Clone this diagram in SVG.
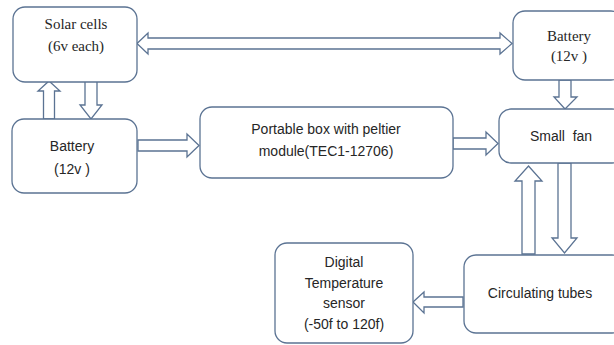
<svg xmlns="http://www.w3.org/2000/svg" width="614" height="345" viewBox="0 0 614 345">
<style>
.box{fill:#fff;stroke:#5b7393;stroke-width:1.3}
.arr{fill:#fff;stroke:#5b7393;stroke-width:1.3;stroke-linejoin:miter}
.sans{font-family:"Liberation Sans",Arial,sans-serif;font-size:14px;fill:#262626;text-anchor:middle}
.serif{font-family:"Liberation Serif","Times New Roman",serif;font-size:15px;fill:#262626;text-anchor:middle}
.pre{white-space:pre}
</style>
<rect width="614" height="345" fill="#fff"/>
<g id="connectors">
<polygon class="arr" points="137,43.5 148,33 148,38 500,38 500,33 512,43.5 500,54 500,49 148,49 148,54"/>
<polygon class="arr" points="49,81 60,91 54.5,91 54.5,119 43.5,119 43.5,91 38,91"/>
<polygon class="arr" points="85,81 97,81 97,105 102,105 91,119 80,105 85,105"/>
<polygon class="arr" points="138,140 187,140 187,134 199,145.5 187,157 187,151 138,151"/>
<polygon class="arr" points="453,138 486,138 486,132 498,143.5 486,155 486,149 453,149"/>
<polygon class="arr" points="559,80 571,80 571,97 577,97 565,109 554,97 559,97"/>
<polygon class="arr" points="528.5,166 542,181 535,181 535,254 522,254 522,181 515,181"/>
<polygon class="arr" points="558,163 571,163 571,238 577,238 564.5,253 552,238 558,238"/>
<polygon class="arr" points="413,302 424,292 424,297 463,297 463,307 424,307 424,313"/>
</g>
<g id="solar">
<rect class="box" x="13" y="7" width="124" height="75" rx="12"/>
<text class="serif" x="76" y="29">Solar cells</text>
<text class="serif" x="76" y="51">(6v each)</text>
</g>
<g id="battery-left">
<rect class="box" x="12" y="119" width="125" height="74" rx="12"/>
<text class="sans" x="72" y="151">Battery</text>
<text class="sans" x="72" y="174">(12v )</text>
</g>
<g id="portable">
<rect class="box" x="200" y="107" width="253" height="71" rx="12"/>
<text class="sans" x="326" y="134">Portable box with peltier</text>
<text class="sans" x="326" y="156">module(TEC1-12706)</text>
</g>
<g id="battery-right">
<rect class="box" x="513" y="11" width="110" height="69" rx="12"/>
<text class="serif" x="569" y="41">Battery</text>
<text class="serif" x="569" y="61">(12v )</text>
</g>
<g id="fan">
<rect class="box" x="499" y="109" width="125" height="54" rx="12"/>
<text class="sans pre" x="561" y="141" xml:space="preserve">Small  fan</text>
</g>
<g id="tubes">
<rect class="box" x="464" y="255" width="160" height="78" rx="12"/>
<text class="sans" x="540" y="298">Circulating tubes</text>
</g>
<g id="digital">
<rect class="box" x="275" y="243" width="138" height="100" rx="12"/>
<text class="sans" x="344" y="267">Digital</text>
<text class="sans" x="344" y="288">Temperature</text>
<text class="sans" x="344" y="308">sensor</text>
<text class="sans" x="344" y="329">(-50f to 120f)</text>
</g>
</svg>
